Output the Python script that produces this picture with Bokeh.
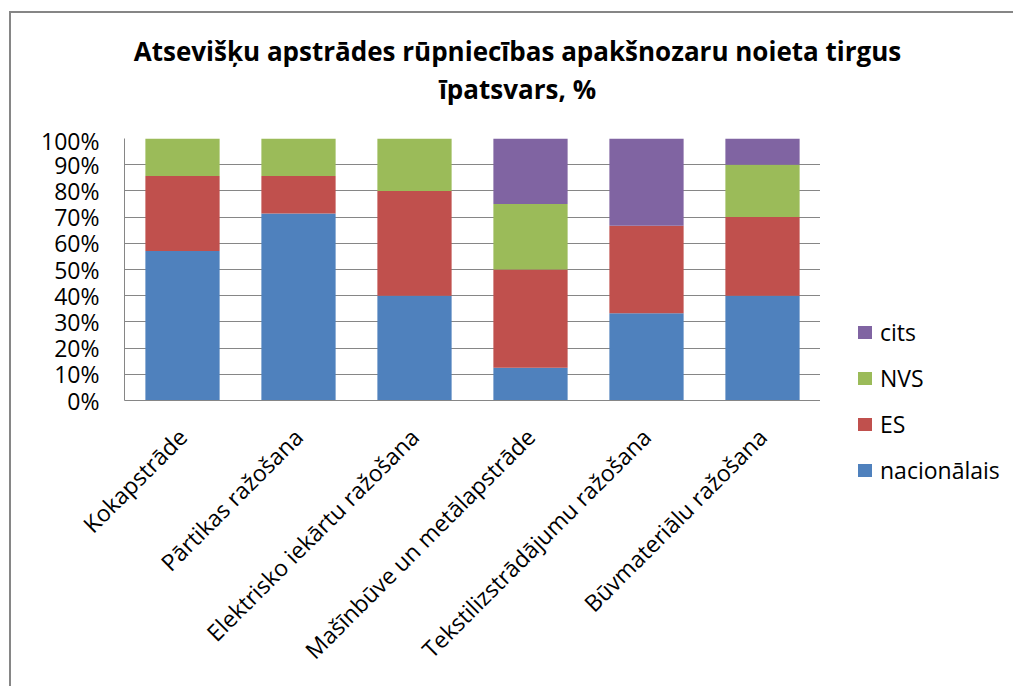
from bokeh.plotting import figure
from bokeh.models import (ColumnDataSource, FactorRange, NumeralTickFormatter, FixedTicker, Div)
from bokeh.layouts import column, row
from bokeh.embed import file_html
from bokeh.resources import INLINE
import math

categories = ["Kokapstrāde", "Pārtikas ražošana", "Elektrisko iekārtu ražošana",
              "Mašīnbūve un metālapstrāde", "Tekstilizstrādājumu ražošana", "Būvmateriālu ražošana"]
series = ["nacionālais", "ES", "NVS", "cits"]
nacionalais = [0.571, 0.714, 0.40, 0.125, 0.333, 0.40]
es = [0.286, 0.143, 0.40, 0.375, 0.334, 0.30]
nvs = [0.143, 0.143, 0.20, 0.25, 0.0, 0.20]
cits = [0.0, 0.0, 0.0, 0.25, 0.333, 0.10]
colors = ["#4F81BD", "#C0504D", "#9BBB59", "#8064A2"]
title_lines = ["Atsevišķu apstrādes rūpniecības apakšnozaru noieta tirgus", "īpatsvars, %"]

FONT = "Open Sans"
GRAY = "#868686"

TOP = 14
FRAME_H = 262
BOTTOM = 282
H = TOP + FRAME_H + BOTTOM

src = ColumnDataSource(dict(cat=categories, nacionalais=nacionalais, es=es, nvs=nvs, cits=cits))

p = figure(x_range=FactorRange(*categories, range_padding=0), y_range=(0, 1),
           width=809, height=H, output_backend="svg", toolbar_location=None,
           min_border_left=113, min_border_right=0, min_border_top=TOP, min_border_bottom=BOTTOM)

renderers = p.vbar_stack(["nacionalais", "es", "nvs", "cits"], x="cat", width=0.64,
                         color=colors, line_color=None, source=src)

p.outline_line_color = None
p.xgrid.grid_line_color = None
p.ygrid.grid_line_color = GRAY
p.ygrid.grid_line_width = 1
p.ygrid.level = "underlay"

p.yaxis.ticker = FixedTicker(ticks=[i / 10 for i in range(11)])
p.yaxis.formatter = NumeralTickFormatter(format="0%")
for ax in (p.xaxis[0], p.yaxis[0]):
    ax.axis_line_color = GRAY
    ax.major_tick_line_color = None
    ax.minor_tick_line_color = None
    ax.major_label_text_font = FONT
    ax.major_label_text_font_size = "23px"
    ax.major_label_text_color = "#000000"
p.yaxis.major_label_standoff = 19
p.xaxis.major_label_orientation = math.pi / 4
p.xaxis.major_label_standoff = 26

# legend (reverse order: top entry is the last series)
item_html = []
for s, c in list(zip(series, colors))[::-1]:
    item_html.append(
        "<div style=\"display:flex;align-items:center;height:32px;margin-bottom:14px;\">"
        f"<span style=\"display:inline-block;width:14px;height:13px;background:{c};"
        "margin-right:8px;\"></span>"
        f"<span style=\"font-family:'Open Sans';font-size:23px;color:#000;\">{s}</span></div>")
legend_html = ("<div style=\"padding-top:187px;margin-left:33px;\">" + "".join(item_html) + "</div>")
legend = Div(text=legend_html, width=180, height=H)

title_html = ("<div style=\"font-family:'Open Sans';font-weight:bold;font-size:26px;"
              "color:#000;text-align:center;line-height:38px;padding-top:14px;"
              "margin-left:20px;width:963px;\">" + "<br>".join(title_lines) + "</div>")
title = Div(text=title_html, width=1000, height=101)

layout = column(title, row(p, legend),
                styles={"margin-left": "9px", "margin-top": "11px",
                        "border-left": "2px solid " + GRAY, "border-top": "2px solid " + GRAY})

open("out.html", "w").write(file_html(layout, INLINE))
